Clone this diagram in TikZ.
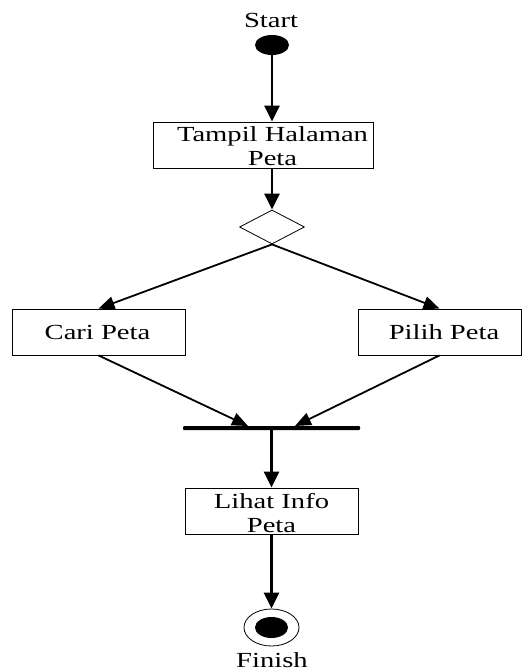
\documentclass[tikz,border=0pt]{standalone}
\usepackage{fontspec}
\setmainfont{Liberation Serif}
\usepackage{graphicx}
\usetikzlibrary{shapes.geometric, arrows.meta}

\newcommand{\lebar}[1]{\scalebox{1.33}[1]{#1}}

\tikzset{
    kotak/.style={draw, line width=0.8pt, inner sep=0pt, minimum height=46pt},
    teks/.style={font=\fontsize{21.5}{24.5}\selectfont, align=center, inner sep=0pt},
    panah/.style={-{Triangle[length=16pt,width=15pt]}, line width=2.6pt},
    panahmiring/.style={-{Triangle[length=16pt,width=13pt]}, line width=1.8pt}
}

\begin{document}
\begin{tikzpicture}[x=1pt, y=-1pt, line cap=butt]

    \useasboundingbox (0,0) rectangle (522,671);

    % --- 1. Start ---
    \node[teks] (starttxt) at (271,20) {\lebar{Start}};
    \node[ellipse, fill=black, inner sep=0pt, minimum width=34pt, minimum height=20pt] (start) at (272,45) {};

    % --- 2. Tampil Halaman Peta ---
    \node[kotak, minimum width=220pt] (tampil) at (263,145) {};
    \node[teks] (tampiltxt) at (272.5,146) {\lebar{Tampil Halaman}\\\lebar{Peta}};

    % --- 3. Percabangan (diamond) ---
    \node[diamond, draw, line width=0.8pt, inner sep=0pt, minimum width=65pt, minimum height=34pt] (cabang) at (272,227) {};

    % --- 4. Cari Peta / Pilih Peta ---
    \node[kotak, minimum width=173pt] (cari) at (98.5,332) {};
    \node[teks] (caritxt) at (97.5,332) {\lebar{Cari Peta}};
    \node[kotak, minimum width=163pt] (pilih) at (439.5,332) {};
    \node[teks] (pilihtxt) at (444,332) {\lebar{Pilih Peta}};

    % --- 5. Join bar ---
    \node[fill=black, inner sep=0pt, minimum width=177pt, minimum height=4pt, rounded corners=1pt] (bar) at (271.5,428) {};
    \coordinate (masukkiri) at (248,426);
    \coordinate (masukkanan) at (295,426);

    % --- 6. Lihat Info Peta ---
    \node[kotak, minimum width=173pt] (lihat) at (271.5,511) {};
    \node[teks] (lihattxt) at (271.5,513) {\lebar{Lihat Info}\\\lebar{Peta}};

    % --- 7. Finish ---
    \node[ellipse, draw, line width=0.8pt, inner sep=0pt, minimum width=55pt, minimum height=37pt] (finish) at (271.5,627.5) {};
    \node[ellipse, fill=black, inner sep=0pt, minimum width=33pt, minimum height=21pt] (finishdot) at (271.5,627.5) {};
    \node[teks] (finishtxt) at (272,660) {\lebar{Finish}};

    % --- 8. Panah ---
    \draw[panah] (start.south) -- (start.south |- tampil.north);
    \draw[panah] (tampil.south -| cabang.north) -- (cabang.north);
    \draw[panahmiring] (cabang.south) -- (cari.north);
    \draw[panahmiring] (cabang.south) -- (pilih.north);
    \draw[panahmiring] (cari.south) -- (masukkiri);
    \draw[panahmiring] (pilih.south) -- (masukkanan);
    \draw[panah] (bar.south) -- (lihat.north);
    \draw[panah] (lihat.south) -- (finish.north);

\end{tikzpicture}
\end{document}
